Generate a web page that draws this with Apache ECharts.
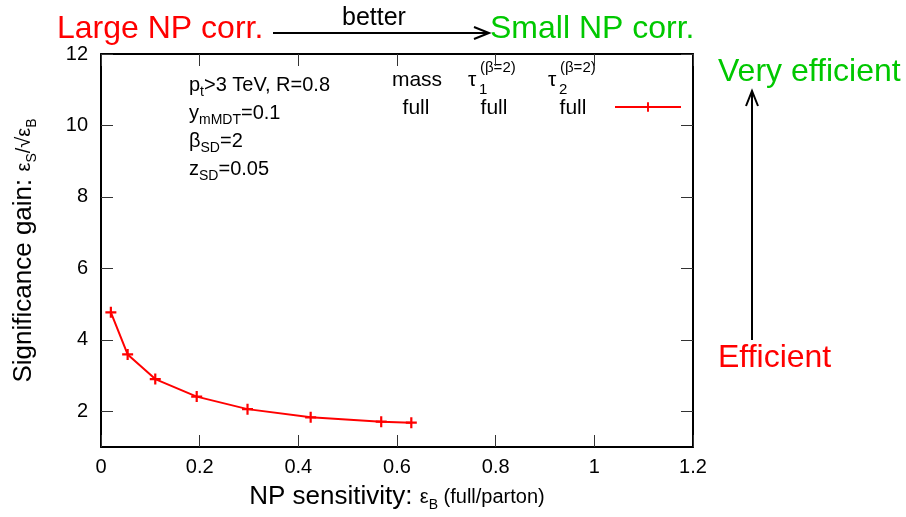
<!DOCTYPE html>
<html><head><meta charset="utf-8">
<script src="https://cdn.jsdelivr.net/npm/echarts@6/dist/echarts.min.js"></script>
<style>html,body{margin:0;padding:0;background:#fff}#c{width:906px;height:517px}</style>
</head><body><div id="c"></div>
<script>
// data
const xValues = [0.020, 0.054, 0.110, 0.194, 0.297, 0.425, 0.568, 0.629];
const yValues = [4.77, 3.59, 2.90, 2.41, 2.06, 1.83, 1.71, 1.68];
const xTicks = [0, 0.2, 0.4, 0.6, 0.8, 1, 1.2];
const yTicks = [2, 4, 6, 8, 10, 12];
const seriesName = 'mass full, τ1 full, τ2 full';

const FONT = '"Liberation Sans", Arial, sans-serif';
const RED = '#ff0000', GREEN = '#00c800';
const plus = 'path://M4,0h2v4h4v2h-4v4h-2v-4h-4v-2h4z';

const chart = echarts.init(document.getElementById('c'), null, {renderer: 'canvas'});
const points = xValues.map((x, i) => [x, yValues[i]]);

const axisLine = {show: true, onZero: false, lineStyle: {color: '#000', width: 2}};
const tick = {show: true, inside: true, length: 12, lineStyle: {color: '#333', width: 1}};

function txt(text, x, y, size, color, extra) {
  return Object.assign({type: 'text', x: x, y: y, style: {text: text, font: size + 'px ' + FONT, fill: color || '#000', textVerticalAlign: 'middle', textAlign: 'left'}}, extra || {});
}
function ctxt(text, x, y, size) {
  return {type: 'text', x: x, y: y, style: {text: text, font: size + 'px ' + FONT, fill: '#000', textAlign: 'center', textVerticalAlign: 'middle'}};
}

const option = {
  backgroundColor: '#fff',
  animation: false,
  textStyle: {fontFamily: FONT},
  grid: {left: 101, right: 213, top: 54, bottom: 69, containLabel: false},
  legend: {
    data: [seriesName], left: 609, top: 96, itemWidth: 66, itemHeight: 12,
    formatter: function () { return ''; }, textStyle: {fontSize: 1}
  },
  xAxis: [{
    type: 'value', min: 0, max: 1.2, interval: 0.2, position: 'bottom',
    axisLine: axisLine, axisTick: tick, splitLine: {show: false},
    axisLabel: {color: '#000', fontSize: 20, fontFamily: FONT, margin: 10},
    name: 'NP sensitivity: {e|ε}{sub|B}{s| (full/parton)}',
    nameLocation: 'middle', nameGap: 37,
    nameTextStyle: {color: '#000', fontSize: 26, fontFamily: FONT,
      rich: {e: {fontSize: 20, fontFamily: FONT, color: '#000'},
             sub: {fontSize: 14, fontFamily: FONT, color: '#000', verticalAlign: 'bottom', padding: [0, 0, -2, 0]},
             s: {fontSize: 20, fontFamily: FONT, color: '#000'}}}
  }, {
    type: 'value', min: 0, max: 1.2, interval: 0.2, position: 'top',
    axisLine: axisLine, axisTick: tick, splitLine: {show: false}, axisLabel: {show: false}
  }],
  yAxis: [{
    type: 'value', min: 1, max: 12, position: 'left',
    axisLine: axisLine,
    axisTick: Object.assign({customValues: yTicks}, tick),
    splitLine: {show: false},
    axisLabel: {color: '#000', fontSize: 20, fontFamily: FONT, margin: 13, customValues: yTicks},
    name: 'Significance gain: {e|ε}{sub|S}{e|/√ε}{sub|B}',
    nameLocation: 'middle', nameGap: 64,
    nameTextStyle: {color: '#000', fontSize: 26, fontFamily: FONT,
      rich: {e: {fontSize: 20, fontFamily: FONT, color: '#000'},
             sub: {fontSize: 14, fontFamily: FONT, color: '#000', verticalAlign: 'bottom', padding: [0, 0, -2, 0]}}}
  }, {
    type: 'value', min: 1, max: 12, position: 'right',
    axisLine: axisLine,
    axisTick: Object.assign({customValues: yTicks}, tick),
    splitLine: {show: false}, axisLabel: {show: false}
  }],
  series: [{
    name: seriesName, type: 'line', xAxisIndex: 0, yAxisIndex: 0,
    data: points, symbol: plus, symbolSize: 11, showSymbol: true,
    lineStyle: {color: RED, width: 2}, itemStyle: {color: RED},
    emphasis: {disabled: true}
  }],
  graphic: [
    txt('Large NP corr.', 57, 29, 32, RED),
    txt('better', 342, 18, 25, '#000'),
    txt('Small NP corr.', 490, 29, 32, GREEN),
    txt('Very efficient', 718, 72, 32, GREEN),
    txt('Efficient', 718, 358, 32, RED),
    {type: 'line', shape: {x1: 273, y1: 33, x2: 489, y2: 33}, style: {stroke: '#000', lineWidth: 2}},
    {type: 'polyline', shape: {points: [[474, 27], [489, 33], [474, 39]]}, style: {stroke: '#000', lineWidth: 2, fill: null}},
    {type: 'line', shape: {x1: 752, y1: 340, x2: 752, y2: 91}, style: {stroke: '#000', lineWidth: 2}},
    {type: 'polyline', shape: {points: [[746, 106], [752, 91], [758, 106]]}, style: {stroke: '#000', lineWidth: 2, fill: null}},
    // in-plot annotation
    {type: 'text', x: 189, y: 85, style: {text: 'p{s|t}>3 TeV, R=0.8', font: '20px ' + FONT, fill: '#000', textVerticalAlign: 'middle',
      rich: {s: {fontSize: 14, fontFamily: FONT, fill: '#000', verticalAlign: 'bottom', padding: [0, 0, -4, 0]}}}},
    {type: 'text', x: 189, y: 113, style: {text: 'y{s|mMDT}=0.1', font: '20px ' + FONT, fill: '#000', textVerticalAlign: 'middle',
      rich: {s: {fontSize: 14, fontFamily: FONT, fill: '#000', verticalAlign: 'bottom', padding: [0, 0, -4, 0]}}}},
    {type: 'text', x: 189, y: 141, style: {text: 'β{s|SD}=2', font: '20px ' + FONT, fill: '#000', textVerticalAlign: 'middle',
      rich: {s: {fontSize: 14, fontFamily: FONT, fill: '#000', verticalAlign: 'bottom', padding: [0, 0, -4, 0]}}}},
    {type: 'text', x: 189, y: 169, style: {text: 'z{s|SD}=0.05', font: '20px ' + FONT, fill: '#000', textVerticalAlign: 'middle',
      rich: {s: {fontSize: 14, fontFamily: FONT, fill: '#000', verticalAlign: 'bottom', padding: [0, 0, -4, 0]}}}},
    // legend header
    ctxt('mass', 417, 80, 21),
    ctxt('full', 416, 108, 21),
    txt('τ', 468, 80, 21),
    txt('1', 479, 90, 15),
    txt('(β=2)', 480, 68, 15),
    ctxt('full', 494, 108, 21),
    txt('τ', 548, 80, 21),
    txt('2', 559, 90, 15),
    txt('(β=2)', 560, 68, 15),
    ctxt('full', 573, 108, 21)
  ]
};
chart.setOption(option);
</script>
</body></html>
